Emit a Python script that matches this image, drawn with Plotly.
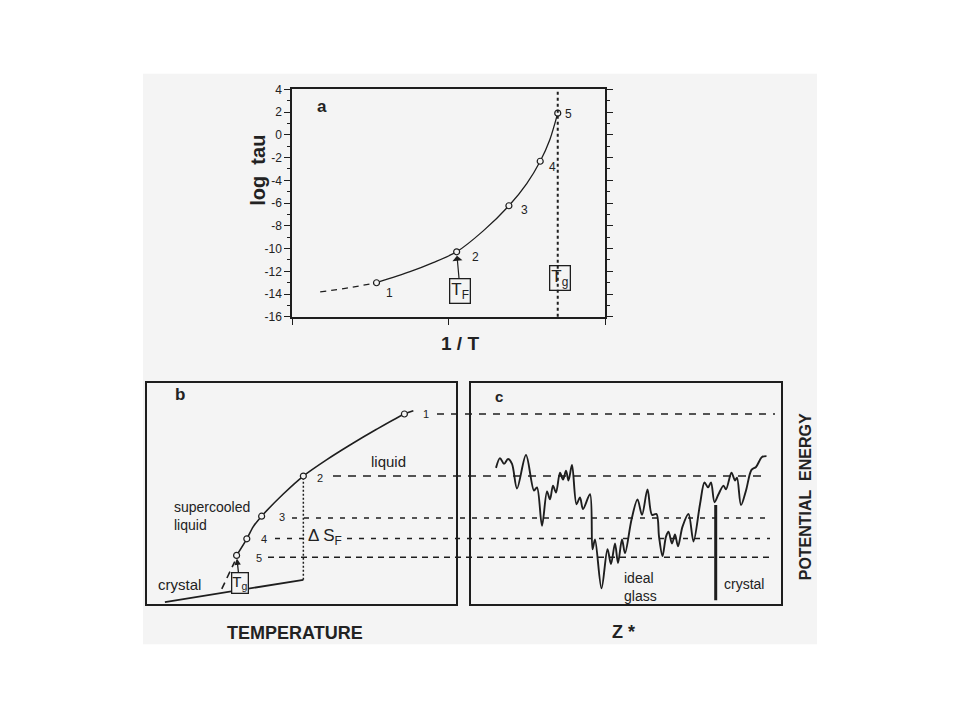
import plotly.graph_objects as go

# ---------------- data ----------------
# panel a : log tau vs 1/T (arbitrary 1/T units 0..1)
a_pts_x = [0.27, 0.526, 0.693, 0.793, 0.849]
a_pts_y = [-13.0, -10.28, -6.23, -2.32, 1.91]
a_pts_lab = ["1", "2", "3", "4", "5"]
a_curve_x = [0.27, 0.377, 0.451, 0.526, 0.611, 0.693, 0.750, 0.793, 0.824, 0.849]
a_curve_y = [-13.0, -12.03, -11.23, -10.28, -8.44, -6.23, -4.28, -2.32, -0.40, 1.91]
a_dash_x = [0.09, 0.18, 0.27]
a_dash_y = [-13.8, -13.45, -13.0]
a_tg = 0.849
a_tick_vals = [-16, -14, -12, -10, -8, -6, -4, -2, 0, 2, 4]
a_tick_text = ["-16", "-14", "-12", "-10", "-8", "-6", "-4", "-2", "0", "2", "4"]
a_minor_vals = [-15, -13, -11, -9, -7, -5, -3, -1, 1, 3]

# panel b : entropy vs temperature (arbitrary units)
b_pts_x = [8.33, 5.06, 3.71, 3.23, 2.90]
b_pts_y = [8.58, 5.78, 3.97, 2.95, 2.20]
b_curve_x = [2.90, 3.23, 3.44, 3.71, 4.41, 5.06, 5.82, 6.57, 7.43, 8.33, 8.62]
b_curve_y = [2.20, 2.95, 3.50, 3.97, 4.97, 5.78, 6.52, 7.18, 7.89, 8.58, 8.73]
b_ext_x = [2.42, 2.84]
b_ext_y = [0.69, 1.92]
crystal_x = [0.58, 5.06]
crystal_y = [0.09, 1.10]
melt_x = 5.06

# panel c : potential energy landscape vs Z*
c_x = [0.806, 0.935, 1.065, 1.194, 1.323, 1.484, 1.774, 2.032, 2.129, 2.290,
       2.452, 2.548, 2.645, 2.742, 2.871, 2.968, 3.065, 3.145, 3.258, 3.403,
       3.516, 3.613, 3.839, 3.919, 4.000, 4.210, 4.403, 4.516, 4.645, 4.742,
       4.871, 4.968, 5.177, 5.371, 5.516, 5.694, 5.839, 5.984, 6.065, 6.177,
       6.290, 6.371, 6.484, 6.581, 6.677, 6.823, 7.016, 7.177, 7.387, 7.532,
       7.645, 7.742, 7.855, 7.984, 8.145, 8.226, 8.403, 8.516, 8.581, 8.710,
       8.871, 9.048, 9.194, 9.387, 9.532]
c_y = [6.15, 6.59, 6.33, 6.55, 6.33, 5.22, 6.73, 5.13, 5.27, 3.54,
       5.09, 4.73, 5.35, 5.04, 5.93, 5.62, 6.02, 5.58, 6.28, 4.51,
       4.82, 4.29, 4.96, 2.48, 2.92, 0.71, 2.48, 1.81, 2.74, 1.86,
       2.92, 2.30, 3.81, 4.73, 4.03, 5.18, 4.03, 4.07, 3.05, 2.17,
       3.05, 3.27, 2.74, 3.14, 2.61, 3.50, 4.07, 2.83, 4.51, 5.49,
       5.27, 5.49, 4.60, 4.96, 5.35, 5.18, 5.93, 5.58, 5.71, 4.47,
       5.13, 6.06, 6.19, 6.64, 6.68]
spike_x = [7.894, 7.894]
spike_y = [4.47, 0.18]

# energy levels 1..5 (shared by panels b and c)
levels = [8.58, 5.78, 3.89, 2.96, 2.12]

INK = "#1e1e1e"
TXT = "#222222"
PAPER = "#f4f4f4"
FONT = "Liberation Sans, Arial, sans-serif"

fig = go.Figure()

# panel a
fig.add_trace(go.Scatter(x=a_dash_x, y=a_dash_y, mode="lines", xaxis="x", yaxis="y",
                         line=dict(color=INK, width=1.3, dash="6px,5px", shape="spline")))
fig.add_trace(go.Scatter(x=a_curve_x, y=a_curve_y, mode="lines", xaxis="x", yaxis="y",
                         line=dict(color=INK, width=1.3, shape="spline", smoothing=0.8)))
fig.add_trace(go.Scatter(x=a_pts_x, y=a_pts_y, mode="markers", xaxis="x", yaxis="y",
                         marker=dict(symbol="circle", size=6, color=PAPER,
                                     line=dict(color=INK, width=1.2))))

# panel b
fig.add_trace(go.Scatter(x=crystal_x, y=crystal_y, mode="lines", xaxis="x2", yaxis="y2",
                         line=dict(color=INK, width=1.8)))
fig.add_trace(go.Scatter(x=[melt_x, melt_x], y=[crystal_y[1], b_pts_y[1]], mode="lines",
                         xaxis="x2", yaxis="y2", line=dict(color=INK, width=1.5, dash="2px,2px")))
fig.add_trace(go.Scatter(x=b_ext_x, y=b_ext_y, mode="lines", xaxis="x2", yaxis="y2",
                         line=dict(color=INK, width=1.6, dash="7px,5px")))
fig.add_trace(go.Scatter(x=b_curve_x, y=b_curve_y, mode="lines", xaxis="x2", yaxis="y2",
                         line=dict(color=INK, width=1.6, shape="spline", smoothing=0.8)))
fig.add_trace(go.Scatter(x=b_pts_x, y=b_pts_y, mode="markers", xaxis="x2", yaxis="y2",
                         marker=dict(symbol="circle", size=6, color=PAPER,
                                     line=dict(color=INK, width=1.2))))

# panel c
fig.add_trace(go.Scatter(x=c_x, y=c_y, mode="lines", xaxis="x3", yaxis="y3",
                         line=dict(color=INK, width=1.9, shape="spline", smoothing=0.9)))
fig.add_trace(go.Scatter(x=spike_x, y=spike_y, mode="lines", xaxis="x3", yaxis="y3",
                         line=dict(color=INK, width=3)))

shapes = [dict(type="rect", xref="paper", yref="paper", x0=143/960, x1=817/960,
               y0=1-650/720, y1=1-68/720, fillcolor=PAPER, line=dict(width=0), layer="below"),
          dict(type="line", xref="x", yref="y domain", x0=a_tg, x1=a_tg, y0=0, y1=1,
               line=dict(color=INK, width=2, dash="dot"))]

lvl_start = [437, 333, 292, 275, 268]
lvl_end = [775, 763, 768, 770, 770]
lvl_dash = ["7px,7px", "8px,7px", "5px,7px", "5px,7px", "6px,5px"]
for lv, s, e, d in zip(levels, lvl_start, lvl_end, lvl_dash):
    shapes.append(dict(type="line", xref="paper", yref="y2", x0=s/960, x1=e/960, y0=lv, y1=lv,
                       line=dict(color=INK, width=1.5, dash=d), layer="below"))

ann = []
def A(text, x, y, xref, yref, size=13, bold=False, **kw):
    t = "<b>%s</b>" % text if bold else text
    d = dict(text=t, x=x, y=y, xref=xref, yref=yref, showarrow=False,
             xanchor="center", yanchor="middle",
             font=dict(family=FONT, size=size, color=TXT))
    d.update(kw)
    ann.append(d)

# panel a texts
A("a", 0.096, 2.45, "x", "y", size=17, bold=True)
for xx, yy, t in zip([0.313, 0.585, 0.744, 0.831, 0.882], [-13.93, -10.74, -6.6, -2.81, 1.84], a_pts_lab):
    A(t, xx, yy, "x", "y", size=12)
ann.append(dict(text="T<sub>F</sub>", x=a_pts_x[1], y=a_pts_y[1], xref="x", yref="y",
                showarrow=True, ax=3.5, ay=39, arrowhead=1, arrowsize=1.4, arrowwidth=1.2,
                arrowcolor=INK, standoff=4, bordercolor=INK, borderwidth=1.3, borderpad=1,
                xanchor="center", yanchor="middle",
                font=dict(family=FONT, size=17, color=TXT)))
A("T<sub>g</sub>", 0.855, -12.6, "x", "y", size=17, bordercolor=INK, borderwidth=1.3, borderpad=1)
A("log  tau", 258/960, 1-167/720, "paper", "paper", size=20, bold=True, textangle=-90)
A("1 / T", 460/960, 1-343/720, "paper", "paper", size=19, bold=True)

# panel b texts
A("b", 1.07, 9.47, "x2", "y2", size=17, bold=True)
for xx, yy, t in zip([9.03, 5.60, 4.37, 3.79, 3.62], [8.58, 5.71, 3.94, 2.92, 2.08], a_pts_lab):
    A(t, xx, yy, "x2", "y2", size=11, bgcolor=PAPER)
A("liquid", 7.80, 6.46, "x2", "y2", size=15)
A("supercooled<br>liquid", 0.81, 3.96, "x2", "y2", size=14, xanchor="left", align="left")
A("crystal", 0.29, 0.90, "x2", "y2", size=15, xanchor="left")
A("\u0394 S<sub>F</sub>", 5.15, 3.05, "x2", "y2", size=17, xanchor="left", bgcolor=PAPER)
ann.append(dict(text="T<sub>g</sub>", x=b_pts_x[4], y=b_pts_y[4], xref="x2", yref="y2",
                showarrow=True, ax=3, ay=28, arrowhead=2, arrowsize=1, arrowwidth=1.3,
                arrowcolor=INK, standoff=3, bordercolor=INK, borderwidth=1.3, borderpad=0,
                xanchor="center", yanchor="middle",
                bgcolor=PAPER, font=dict(family=FONT, size=15, color=TXT)))
A("TEMPERATURE", 295/960, 1-638/720, "paper", "paper", size=18, bold=True)

# panel c texts
A("c", 0.90, 9.38, "x3", "y3", size=15, bold=True)
A("ideal<br>glass", 5.48, 0.78, "x3", "y3", size=14, align="left")
A("crystal", 8.81, 0.93, "x3", "y3", size=14)
A("Z *", 623/960, 1-637/720, "paper", "paper", size=18, bold=True)
A("POTENTIAL  ENERGY", 805/960, 1-500/720, "paper", "paper", size=16, bold=True, textangle=-90)

box = dict(showline=True, linecolor=INK, linewidth=1.5, mirror=True, showgrid=False,
           zeroline=False, showticklabels=False, ticks="")

fig.update_layout(
    width=960, height=720, margin=dict(l=0, r=0, t=0, b=0),
    paper_bgcolor="white", plot_bgcolor="rgba(0,0,0,0)", showlegend=False,
    xaxis=dict(domain=[292/960, 605/960], range=[0, 1], showline=True, linecolor=INK,
               linewidth=1.8, mirror=True, showgrid=False, zeroline=False,
               tickvals=[0, 0.5, 1], ticks="outside", ticklen=6, tickcolor=INK,
               showticklabels=False),
    yaxis=dict(domain=[1-316/720, 1-84/720], range=[-16, 4], showline=True, linecolor=INK,
               linewidth=1.5, mirror="ticks", showgrid=False, zeroline=False,
               tickmode="array", tickvals=a_tick_vals, ticktext=a_tick_text,
               ticks="outside", ticklen=6, tickcolor=INK, tickwidth=1.2,
               minor=dict(tickmode="array", tickvals=a_minor_vals, ticks="outside",
                          ticklen=3, tickcolor=INK),
               tickfont=dict(family=FONT, size=12, color=TXT)),
    xaxis2=dict(domain=[147/960, 456/960], range=[0, 10], anchor="y2", **box),
    yaxis2=dict(domain=[1-609/720, 1-383/720], range=[0, 10], anchor="x2", **box),
    xaxis3=dict(domain=[471/960, 781/960], range=[0, 10], anchor="y3", **box),
    yaxis3=dict(domain=[1-609/720, 1-383/720], range=[0, 10], anchor="x3", **box),
    shapes=shapes, annotations=ann,
)

fig.write_html("out.html", config={"displayModeBar": False},
               post_script="document.body.style.margin='0';document.body.style.overflow='hidden';")
